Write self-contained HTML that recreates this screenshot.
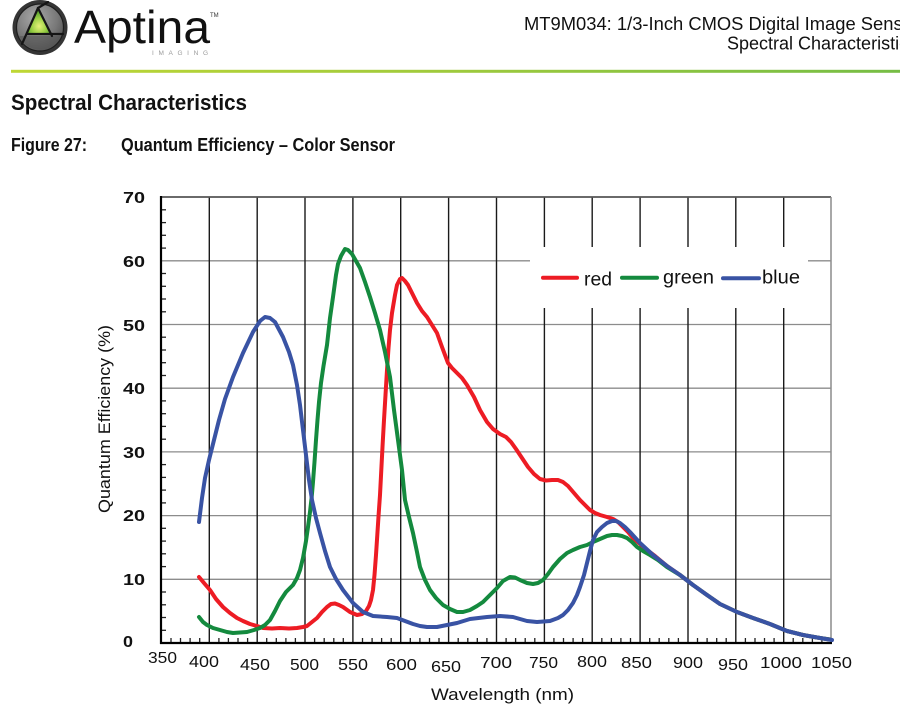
<!DOCTYPE html>
<html>
<head>
<meta charset="utf-8">
<style>
html,body{margin:0;padding:0;background:#fff;}
body{width:900px;height:722px;overflow:hidden;}
svg{display:block;font-family:"Liberation Sans",sans-serif;}
</style>
</head>
<body>
<svg width="900" height="722" viewBox="0 0 900 722" xmlns="http://www.w3.org/2000/svg">
<defs>
  <linearGradient id="hl" x1="0" y1="0" x2="1" y2="0">
    <stop offset="0" stop-color="#bfd735"/>
    <stop offset="0.45" stop-color="#a2cb3c"/>
    <stop offset="1" stop-color="#76bd45"/>
  </linearGradient>
  <radialGradient id="lg" cx="0.4" cy="0.3" r="0.8">
    <stop offset="0" stop-color="#a8a8a8"/>
    <stop offset="0.6" stop-color="#777"/>
    <stop offset="1" stop-color="#4a4a4a"/>
  </radialGradient>
  <radialGradient id="tg" cx="0.5" cy="0.7" r="0.6">
    <stop offset="0" stop-color="#e6f07a"/>
    <stop offset="0.5" stop-color="#9cd046"/>
    <stop offset="1" stop-color="#4f9a2a"/>
  </radialGradient>
</defs>
<rect width="900" height="722" fill="#fff"/>

<!-- Logo -->
<circle cx="40" cy="27.5" r="27.5" fill="#353535"/>
<circle cx="40" cy="27.5" r="23.5" fill="url(#lg)" stroke="#1e1e1e" stroke-width="1.2"/>
<path d="M19 36 A23 23 0 0 0 61 36 Z" fill="#555" opacity="0.6"/>
<polygon points="38,8 27,34 51,34" fill="url(#tg)"/>
<g stroke="#151515" stroke-width="2.2" fill="none" stroke-linecap="round">
  <line x1="38" y1="8" x2="48" y2="2"/>
  <line x1="38" y1="8" x2="22" y2="44"/>
  <line x1="27" y1="34" x2="63" y2="34"/>
  <line x1="38" y1="8" x2="52" y2="36"/>
</g>
<text x="74" y="43" font-size="46" fill="#111" textLength="136" lengthAdjust="spacingAndGlyphs">Aptina</text>
<text x="210" y="17" font-size="6" fill="#333">TM</text>
<text x="152" y="55" font-size="6.5" fill="#9a9a9a" textLength="56" lengthAdjust="spacing">IMAGING</text>

<!-- header right -->
<text x="524" y="30" font-size="18" fill="#111" textLength="395" lengthAdjust="spacingAndGlyphs">MT9M034: 1/3-Inch CMOS Digital Image Sensor</text>
<text x="727" y="49.5" font-size="18" fill="#111">Spectral Characteristics</text>

<rect x="11" y="69.8" width="889" height="3" fill="url(#hl)"/>

<text x="11" y="110" font-size="22" font-weight="bold" fill="#111" textLength="236" lengthAdjust="spacingAndGlyphs">Spectral Characteristics</text>
<text x="11" y="151" font-size="18" font-weight="bold" fill="#111" textLength="76" lengthAdjust="spacingAndGlyphs">Figure 27:</text>
<text x="121" y="151" font-size="18" font-weight="bold" fill="#111" textLength="274" lengthAdjust="spacingAndGlyphs">Quantum Efficiency – Color Sensor</text>

<!-- Plot grid -->
<g stroke="#8c8c8c" stroke-width="1.3">
  <line x1="161" y1="260.8" x2="831" y2="260.8"/>
  <line x1="161" y1="324.5" x2="831" y2="324.5"/>
  <line x1="161" y1="388.2" x2="831" y2="388.2"/>
  <line x1="161" y1="451.9" x2="831" y2="451.9"/>
  <line x1="161" y1="515.6" x2="831" y2="515.6"/>
  <line x1="161" y1="579.3" x2="831" y2="579.3"/>
</g>
<g stroke="#1a1a1a" stroke-width="1.4">
  <line x1="209.3" y1="197" x2="209.3" y2="643"/>
  <line x1="257.2" y1="197" x2="257.2" y2="643"/>
  <line x1="305.0" y1="197" x2="305.0" y2="643"/>
  <line x1="352.9" y1="197" x2="352.9" y2="643"/>
  <line x1="400.7" y1="197" x2="400.7" y2="643"/>
  <line x1="448.6" y1="197" x2="448.6" y2="643"/>
  <line x1="496.5" y1="197" x2="496.5" y2="643"/>
  <line x1="544.4" y1="197" x2="544.4" y2="643"/>
  <line x1="592.2" y1="197" x2="592.2" y2="643"/>
  <line x1="640.1" y1="197" x2="640.1" y2="643"/>
  <line x1="688.0" y1="197" x2="688.0" y2="643"/>
  <line x1="735.8" y1="197" x2="735.8" y2="643"/>
  <line x1="783.7" y1="197" x2="783.7" y2="643"/>
</g>
<line x1="161" y1="197" x2="831" y2="197" stroke="#555" stroke-width="1.8"/>
<line x1="831" y1="197" x2="831" y2="643" stroke="#8c8c8c" stroke-width="1.5"/>

<!-- minor ticks y -->
<g stroke="#222" stroke-width="1.3">
  <line x1="161" y1="209.8" x2="166" y2="209.8"/><line x1="161" y1="222.6" x2="166" y2="222.6"/><line x1="161" y1="235.3" x2="166" y2="235.3"/><line x1="161" y1="248.1" x2="166" y2="248.1"/>
  <line x1="161" y1="273.5" x2="166" y2="273.5"/><line x1="161" y1="286.3" x2="166" y2="286.3"/><line x1="161" y1="299.0" x2="166" y2="299.0"/><line x1="161" y1="311.8" x2="166" y2="311.8"/>
  <line x1="161" y1="337.2" x2="166" y2="337.2"/><line x1="161" y1="350.0" x2="166" y2="350.0"/><line x1="161" y1="362.7" x2="166" y2="362.7"/><line x1="161" y1="375.5" x2="166" y2="375.5"/>
  <line x1="161" y1="400.9" x2="166" y2="400.9"/><line x1="161" y1="413.7" x2="166" y2="413.7"/><line x1="161" y1="426.4" x2="166" y2="426.4"/><line x1="161" y1="439.2" x2="166" y2="439.2"/>
  <line x1="161" y1="464.6" x2="166" y2="464.6"/><line x1="161" y1="477.4" x2="166" y2="477.4"/><line x1="161" y1="490.1" x2="166" y2="490.1"/><line x1="161" y1="502.9" x2="166" y2="502.9"/>
  <line x1="161" y1="528.3" x2="166" y2="528.3"/><line x1="161" y1="541.1" x2="166" y2="541.1"/><line x1="161" y1="553.8" x2="166" y2="553.8"/><line x1="161" y1="566.6" x2="166" y2="566.6"/>
  <line x1="161" y1="592.0" x2="166" y2="592.0"/><line x1="161" y1="604.8" x2="166" y2="604.8"/><line x1="161" y1="617.5" x2="166" y2="617.5"/><line x1="161" y1="630.3" x2="166" y2="630.3"/>
</g>
<!-- minor ticks x every 10nm -->
<g stroke="#222" stroke-width="1.3">
  <path d="M171 643v-5M180.5 643v-5M190.1 643v-5M199.7 643v-5M218.9 643v-5M228.4 643v-5M238 643v-5M247.6 643v-5M266.7 643v-5M276.3 643v-5M285.9 643v-5M295.4 643v-5M314.6 643v-5M324.2 643v-5M333.8 643v-5M343.3 643v-5M362.5 643v-5M372.1 643v-5M381.6 643v-5M391.2 643v-5M410.3 643v-5M419.9 643v-5M429.5 643v-5M439 643v-5M458.2 643v-5M467.8 643v-5M477.3 643v-5M486.9 643v-5M506.1 643v-5M515.6 643v-5M525.2 643v-5M534.8 643v-5M553.9 643v-5M563.5 643v-5M573.1 643v-5M582.6 643v-5M601.8 643v-5M611.4 643v-5M620.9 643v-5M630.5 643v-5M649.7 643v-5M659.2 643v-5M668.8 643v-5M678.4 643v-5M697.5 643v-5M707.1 643v-5M716.7 643v-5M726.2 643v-5M745.4 643v-5M755 643v-5M764.5 643v-5M774.1 643v-5M793.2 643v-5M802.8 643v-5M812.4 643v-5M821.9 643v-5"/>
</g>
<!-- axes -->
<line x1="161" y1="196" x2="161" y2="644" stroke="#000" stroke-width="2.2"/>
<line x1="160" y1="643" x2="832" y2="643" stroke="#000" stroke-width="2.2"/>

<!-- legend box -->
<rect x="530" y="247" width="278" height="61" fill="#fff"/>
<g stroke-width="4" stroke-linecap="round">
  <line x1="543" y1="277.7" x2="577" y2="277.7" stroke="#ed1c24"/>
  <line x1="622" y1="277.7" x2="657" y2="277.7" stroke="#148a3e"/>
  <line x1="723" y1="278.3" x2="759" y2="278.3" stroke="#3953a4"/>
</g>
<g font-size="19" fill="#111">
  <text x="584" y="285.5" textLength="28" lengthAdjust="spacingAndGlyphs">red</text>
  <text x="663" y="283.5" textLength="51" lengthAdjust="spacingAndGlyphs">green</text>
  <text x="762" y="283.5" textLength="38" lengthAdjust="spacingAndGlyphs">blue</text>
</g>

<!-- curves -->
<g fill="none" stroke-width="4" stroke-linejoin="round" stroke-linecap="round">
<polyline stroke="#ed1c24" points="199,577 204,583 210,590 216,599 223,607 230,613 237,618 243,621 250,624 257,626 263,628 272,628.5 280,628 289,628.5 297,628 303,627 307,626 312,622 317,618 322,612 327,607 331,604 335,603.5 339,605 343,607 350,612 357,615 362,614 366,611 369,606 371,600 373,590 374.5,575 376,555 377.3,535 378.6,515 380,495 381.3,470 382.6,445 384,420 385.5,395 387,370 388.5,348 390,330 392,313 395,295 397,285 400,279 402,278 405,281 408,285 412,293 417,303 422,311 427,317 432,325 437,333 442,347 448,363 452,368 457,373 462,378 467,385 474,397 480,410 487,422 493,429 500,434 506,437 511,442 516,449 522,458 528,467 534,474 540,479 546,480.5 552,480 558,480 563,482 568,486 574,493 580,500 585,505 590,510 595,513 600,515 607,517 613,519 618,522 623,527 628,532 633,538 640,544 647,550 655,556 667,566 680,575 693,585 707,595 720,604 737,612 753,618 770,624 787,631 803,635 820,638 830,639.5"/>
<polyline stroke="#148a3e" points="199,617 203,622 207,625 213,628 220,630 227,632 233,633 240,632.5 247,632 254,630 260,628 265,625 270,620 275,611 280,601 286,592 293,585 297,578 300,570 303,558 306,541 308,527 310,512 311.7,497 313,482 314.5,462 316,440 317.5,420 319,402 321,383 323.5,366 327,345 330,318 333,297 336,275 338,264 341,256 345,249 348,250 352,254 356,261 360,268 365,282 370,297 375,313 380,330 385,352 390,377 394,410 398,440 402,470 405,500 409,517 413,533 417,552 420,567 425,580 430,590 436,598 443,605 450,609 457,612 463,612 470,610 477,606 483,602 490,595 497,588 503,581 510,577 515,577.5 520,580 527,583 533,584 538,583 543,580 548,574 553,567 560,559 567,553 573,550 580,547 587,545 593,542 600,539 607,536 612,535 617,535 622,536 627,538 632,542 637,547 643,551 650,555 658,560 667,567 680,575 693,585 707,595 720,604 737,612 753,618 770,624 787,631 803,635 820,638 830,639.5"/>
<polyline stroke="#3953a4" points="199,522 202,498 205,478 209,460 214,440 219,420 225,399 233,377 243,353 253,332 260,321 265,317 270,318 275,322 283,337 289,352 293,365 297,385 300,405 303,430 306,455 309,480 312,500 316,518 320,533 325,551 330,567 336,579 343,590 353,603 363,612 373,616 387,617 397,618 405,621 413,624 420,626 427,627 437,627 447,625 457,623 470,619 487,617 500,616 513,617 527,621 537,622 550,621 558,618 563,615 568,610 573,603 577,595 580,587 584,575 587,563 590,551 593,540 597,532 602,527 607,523 612,521 616,521 620,523 625,527 630,532 640,543 653,555 667,566 680,575 693,585 707,595 720,604 737,612 753,618 770,624 787,631 803,635 820,638 832,640"/>
</g>

<!-- Y labels -->
<g font-size="16" font-weight="bold" fill="#111">
  <text x="123" y="203" textLength="22" lengthAdjust="spacingAndGlyphs">70</text>
  <text x="123" y="267" textLength="22" lengthAdjust="spacingAndGlyphs">60</text>
  <text x="123" y="331" textLength="22" lengthAdjust="spacingAndGlyphs">50</text>
  <text x="123" y="394" textLength="22" lengthAdjust="spacingAndGlyphs">40</text>
  <text x="123" y="458" textLength="22" lengthAdjust="spacingAndGlyphs">30</text>
  <text x="123" y="521" textLength="22" lengthAdjust="spacingAndGlyphs">20</text>
  <text x="123" y="585" textLength="22" lengthAdjust="spacingAndGlyphs">10</text>
  <text x="123" y="647" textLength="10" lengthAdjust="spacingAndGlyphs">0</text>
</g>
<!-- X labels -->
<g font-size="16" fill="#111">
  <text x="148" y="663" textLength="29" lengthAdjust="spacingAndGlyphs">350</text>
  <text x="189" y="667" textLength="30" lengthAdjust="spacingAndGlyphs">400</text>
  <text x="240" y="670" textLength="30" lengthAdjust="spacingAndGlyphs">450</text>
  <text x="290" y="670" textLength="29" lengthAdjust="spacingAndGlyphs">500</text>
  <text x="338" y="670" textLength="30" lengthAdjust="spacingAndGlyphs">550</text>
  <text x="386" y="670" textLength="31" lengthAdjust="spacingAndGlyphs">600</text>
  <text x="431" y="672" textLength="30" lengthAdjust="spacingAndGlyphs">650</text>
  <text x="480" y="668" textLength="32" lengthAdjust="spacingAndGlyphs">700</text>
  <text x="529" y="668" textLength="29" lengthAdjust="spacingAndGlyphs">750</text>
  <text x="577" y="667" textLength="30" lengthAdjust="spacingAndGlyphs">800</text>
  <text x="621" y="668" textLength="31" lengthAdjust="spacingAndGlyphs">850</text>
  <text x="673" y="668" textLength="30" lengthAdjust="spacingAndGlyphs">900</text>
  <text x="718" y="670" textLength="30" lengthAdjust="spacingAndGlyphs">950</text>
  <text x="760" y="668" textLength="42" lengthAdjust="spacingAndGlyphs">1000</text>
  <text x="811" y="668" textLength="41" lengthAdjust="spacingAndGlyphs">1050</text>
</g>
<!-- Axis titles -->
<text x="431" y="700" font-size="17" fill="#111" textLength="143" lengthAdjust="spacingAndGlyphs">Wavelength (nm)</text>
<text transform="translate(110,419) rotate(-90)" text-anchor="middle" font-size="17" fill="#111" textLength="188" lengthAdjust="spacingAndGlyphs">Quantum Efficiency (%)</text>
</svg>
</body>
</html>
